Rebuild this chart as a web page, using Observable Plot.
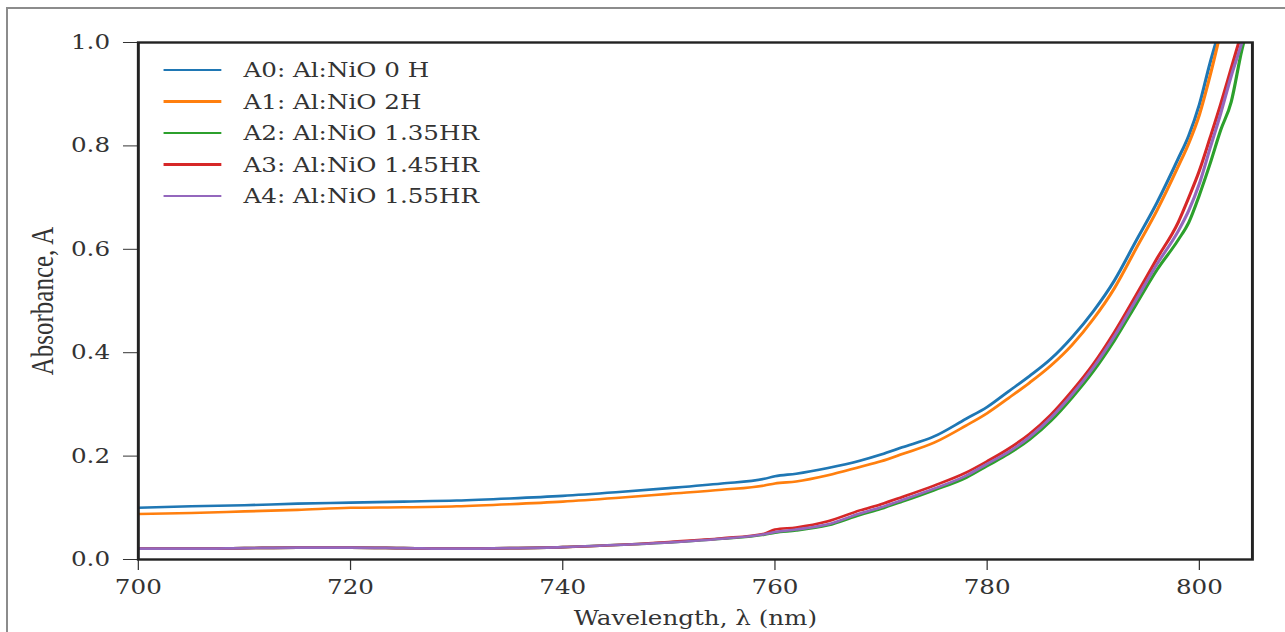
<!DOCTYPE html>
<html>
<head>
<meta charset="utf-8">
<script src="https://cdn.jsdelivr.net/npm/d3@7"></script>
<script src="https://cdn.jsdelivr.net/npm/@observablehq/plot@0.6"></script>
<style>
  html, body { margin: 0; padding: 0; background: #fff; overflow: hidden; width: 1285px; height: 632px; }
  #wrap { position: absolute; left: 0; top: 0; width: 1045px; height: 632px; transform: scaleX(1.22967); transform-origin: 0 0; }
  #border { position: absolute; left: 6px; top: 7px; width: 1300px; height: 700px; border-left: 2px solid #8c8c8c; border-top: 2px solid #8c8c8c; pointer-events: none; }
  .leg { position: absolute; left: 133px; height: 30px; display: flex; align-items: center; font-family: "DejaVu Serif", serif; font-size: 20px; color: #333; white-space: nowrap; }
  .leg .sw { width: 47px; height: 2.8px; margin-right: 18px; }
</style>
</head>
<body>
<div id="wrap"></div>
<div id="border"></div>
<script>
// ---- data ----
const wavelength = [700,705,710,715,720,725,730,735,740,745,750,755,759,760,762,765,768,770,772,775,778,780,782,784,786,788,790,792,794,796,798,799,800,801,802,803,804,805];

const seriesNames = ["A0: Al:NiO 0 H", "A1: Al:NiO 2H", "A2: Al:NiO 1.35HR", "A3: Al:NiO 1.45HR", "A4: Al:NiO 1.55HR"];

const absA0 = [0.100,0.103,0.105,0.108,0.110,0.112,0.114,0.118,0.123,0.130,0.138,0.147,0.156,0.161,0.166,0.177,0.191,0.203,0.217,0.238,0.272,0.295,0.325,0.355,0.388,0.430,0.480,0.540,0.615,0.690,0.775,0.820,0.880,0.960,1.030,null,null,null];
const absA1 = [0.088,0.090,0.093,0.096,0.100,0.101,0.103,0.107,0.112,0.119,0.127,0.135,0.143,0.147,0.151,0.163,0.179,0.190,0.204,0.226,0.259,0.283,0.312,0.342,0.375,0.415,0.465,0.525,0.600,0.675,0.760,0.805,0.860,0.935,1.020,null,null,null];
const absA2 = [0.021,0.021,0.022,0.023,0.023,0.022,0.021,0.022,0.024,0.028,0.033,0.040,0.048,0.052,0.056,0.066,0.086,0.098,0.112,0.134,0.158,0.181,0.204,0.232,0.268,0.313,0.364,0.424,0.492,0.560,0.618,0.652,0.705,0.765,0.830,0.885,0.985,1.060];
const absA3 = [0.021,0.021,0.022,0.023,0.023,0.022,0.021,0.022,0.024,0.028,0.034,0.041,0.050,0.058,0.062,0.074,0.095,0.107,0.121,0.143,0.168,0.190,0.214,0.243,0.280,0.326,0.378,0.440,0.510,0.582,0.652,0.700,0.752,0.815,0.880,0.950,1.020,null];
const absA4 = [0.021,0.021,0.022,0.023,0.023,0.022,0.021,0.022,0.024,0.028,0.033,0.040,0.049,0.053,0.058,0.068,0.089,0.101,0.115,0.137,0.162,0.185,0.208,0.237,0.274,0.319,0.371,0.432,0.501,0.571,0.635,0.675,0.727,0.795,0.862,0.935,1.000,1.080];

const xTicks = [700, 720, 740, 760, 780, 800];
const yTicks = [0, 0.2, 0.4, 0.6, 0.8, 1.0];
const xLabel = "Wavelength, λ (nm)";
const yLabel = "Absorbance, A";

// ---- styling ----
const colors = ["#1f77b4", "#ff7f0e", "#2ca02c", "#d62728", "#9467bd"];
const allValues = [absA0, absA1, absA2, absA3, absA4];

const rows = allValues.map(vals => wavelength.map((w, i) => ({wl: w, A: vals[i]})));

const chart = Plot.plot({
  width: 1045,
  height: 632,
  marginLeft: 112,
  marginRight: 27,
  marginTop: 42,
  marginBottom: 73,
  style: {fontFamily: "'DejaVu Serif', serif", fontSize: "20px", color: "#333", background: "white"},
  x: {domain: [700, 805], ticks: xTicks, tickFormat: d => String(d), tickSize: 11, tickPadding: 9, label: null},
  y: {domain: [0, 1], ticks: yTicks, tickFormat: d3.format(".1f"), tickSize: 12, tickPadding: 11, label: null},
  marks: [
    ...rows.map((r, i) => Plot.line(r, {x: "wl", y: "A", stroke: colors[i], strokeWidth: 2.6, curve: "monotone-x", clip: true})),
    Plot.frame({stroke: "#222", strokeWidth: 2.4}),
    Plot.text([xLabel], {frameAnchor: "bottom", textAnchor: "middle", dy: 65, lineAnchor: "bottom", fontSize: 20, fill: "#333"}),
    Plot.text([yLabel], {frameAnchor: "left", textAnchor: "middle", dx: -69, rotate: -90, lineAnchor: "bottom", fontSize: 25, fontFamily: "'Liberation Serif', serif", fill: "#333"})
  ]
});
chart.querySelectorAll("[aria-label^='x-axis'] line, [aria-label^='y-axis'] line, g[aria-label='x-axis'] path, g[aria-label='y-axis'] path").forEach(el => el.setAttribute("stroke-width", "1.8"));
const wrap = document.getElementById("wrap");
wrap.appendChild(chart);

// legend (inside plot area, top-left)
seriesNames.forEach((name, i) => {
  const row = document.createElement("div");
  row.className = "leg";
  row.style.top = (55 + i * 31.5) + "px";
  const sw = document.createElement("span");
  sw.className = "sw";
  sw.style.background = colors[i];
  const tx = document.createElement("span");
  tx.textContent = name;
  row.appendChild(sw);
  row.appendChild(tx);
  wrap.appendChild(row);
});
</script>
</body>
</html>
